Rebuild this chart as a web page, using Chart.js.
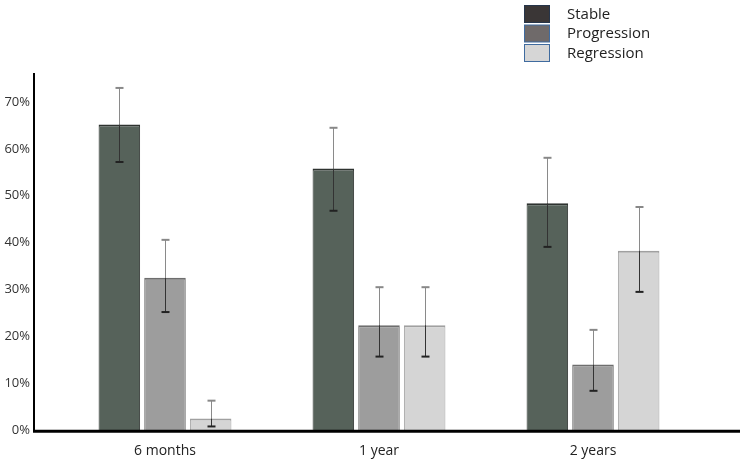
<!DOCTYPE html>
<html>
<head>
<meta charset="utf-8">
<script src="https://cdn.jsdelivr.net/npm/chart.js@4.4.1/dist/chart.umd.min.js"></script>
<style>
  html, body { margin: 0; padding: 0; background: #fff; }
  #wrap { width: 740px; height: 466px; }
</style>
</head>
<body>
<div id="wrap"><canvas id="mycanvas"></canvas></div>
<script>
var categories = ['6 months', '1 year', '2 years'];
var seriesNames = ['Stable', 'Progression', 'Regression'];

var stable = [65.2, 55.8, 48.4];
var progression = [32.5, 22.4, 14.0];
var regression = [2.5, 22.4, 38.3];

// error bar ends (low / high)
var stableLow = [57.2, 46.8, 39.1];
var stableHigh = [73.0, 64.5, 58.1];
var progressionLow = [25.2, 15.7, 8.4];
var progressionHigh = [40.6, 30.5, 21.4];
var regressionLow = [0.8, 15.7, 29.5];
var regressionHigh = [6.3, 30.5, 47.6];

var yMin = 0, yMax = 70, yStep = 10;

Chart.defaults.font.family = "'Open Sans', sans-serif";

var errorBars = {
	id: 'errorBars',
	afterDatasetsDraw: function(chart) {
		var ctx = chart.ctx;
		var y = chart.scales.y;
		chart.data.datasets.forEach(function(ds, i) {
			var meta = chart.getDatasetMeta(i);
			meta.data.forEach(function(bar, j) {
				var x = Math.round(bar.x) + 0.5;
				var top = y.getPixelForValue(ds.errHigh[j]);
				var low = y.getPixelForValue(ds.errLow[j]);
				var barTop = bar.y;
				ctx.save();
				ctx.lineWidth = 1;
				ctx.strokeStyle = '#8a8a8a';
				ctx.beginPath();
				ctx.moveTo(x, top);
				ctx.lineTo(x, Math.min(barTop, low));
				ctx.stroke();
				if (low > barTop) {
					ctx.strokeStyle = '#333';
					ctx.beginPath();
					ctx.moveTo(x, barTop);
					ctx.lineTo(x, low);
					ctx.stroke();
				}
				ctx.lineWidth = 2;
				ctx.strokeStyle = '#888';
				ctx.beginPath();
				ctx.moveTo(x - 4, top);
				ctx.lineTo(x + 4, top);
				ctx.stroke();
				ctx.strokeStyle = '#222';
				ctx.beginPath();
				ctx.moveTo(x - 4, low);
				ctx.lineTo(x + 4, low);
				ctx.stroke();
				ctx.restore();
			});
		});
	}
};

var axisLines = {
	id: 'axisLines',
	afterDraw: function(chart) {
		var ctx = chart.ctx;
		var a = chart.chartArea;
		ctx.save();
		ctx.strokeStyle = '#000';
		ctx.lineWidth = 2;
		ctx.beginPath();
		ctx.moveTo(a.left - 24, a.top - 29);
		ctx.lineTo(a.left - 24, a.bottom + 1);
		ctx.stroke();
		ctx.lineWidth = 3;
		ctx.beginPath();
		ctx.moveTo(a.left - 25, a.bottom + 1);
		ctx.lineTo(chart.width, a.bottom + 1);
		ctx.stroke();
		ctx.restore();
	}
};

var boxLegend = {
	id: 'boxLegend',
	afterDraw: function(chart) {
		var ctx = chart.ctx;
		ctx.save();
		ctx.font = "15px 'Open Sans', sans-serif";
		ctx.textBaseline = 'middle';
		chart.data.datasets.forEach(function(ds, i) {
			var bx = 524.5, by = 5.5 + i * 19.5;
			ctx.fillStyle = ds.legendColor;
			ctx.fillRect(bx, by, 25, 17);
			ctx.strokeStyle = ds.legendBorder;
			ctx.lineWidth = 1;
			ctx.strokeRect(bx, by, 25, 17);
			ctx.fillStyle = '#222';
			ctx.fillText(ds.label, 567, by + 9);
		});
		ctx.restore();
	}
};

var chartdata = {
	labels: categories,
	datasets: [
		{
			label: seriesNames[0],
			data: stable,
			errLow: stableLow,
			errHigh: stableHigh,
			backgroundColor: '#56625a',
			borderColor: '#2e3330',
			borderWidth: {top: 2, left: 1, right: 1, bottom: 0},
			legendColor: '#3a3636',
			legendBorder: '#26354a'
		},
		{
			label: seriesNames[1],
			data: progression,
			errLow: progressionLow,
			errHigh: progressionHigh,
			backgroundColor: '#9d9d9d',
			borderColor: '#6e6e6e',
			borderWidth: {top: 2, left: 1, right: 1, bottom: 0},
			legendColor: '#6f6a6a',
			legendBorder: '#3f6b9f'
		},
		{
			label: seriesNames[2],
			data: regression,
			errLow: regressionLow,
			errHigh: regressionHigh,
			backgroundColor: '#d5d5d5',
			borderColor: '#a0a0a0',
			borderWidth: {top: 2, left: 1, right: 1, bottom: 0},
			legendColor: '#d6d6d6',
			legendBorder: '#3f6b9f'
		}
	]
};

var ctx = document.getElementById('mycanvas');

var barGraph = new Chart(ctx, {
	type: 'bar',
	data: chartdata,
	options: {
		responsive: true,
		maintainAspectRatio: false,
		animation: false,
		layout: {padding: {top: 102, right: 40, bottom: 6, left: 0}},
		datasets: {bar: {categoryPercentage: 0.64, barPercentage: 0.91}},
		plugins: {legend: {display: false}, tooltip: {enabled: false}},
		scales: {
			x: {
				grid: {display: false, drawTicks: false},
				border: {display: false},
				afterFit: function(scale) { scale.height = 29; },
				ticks: {color: '#222', padding: 12, font: {size: 14}}
			},
			y: {
				min: yMin,
				max: yMax,
				grid: {display: false, drawTicks: false},
				border: {display: false},
				afterFit: function(scale) { scale.width = 58; },
				ticks: {
					stepSize: yStep,
					padding: 28,
					color: '#333',
					font: {size: 13},
					callback: function(v) { return v + '%'; }
				}
			}
		}
	},
	plugins: [errorBars, axisLines, boxLegend]
});
</script>
</body>
</html>
